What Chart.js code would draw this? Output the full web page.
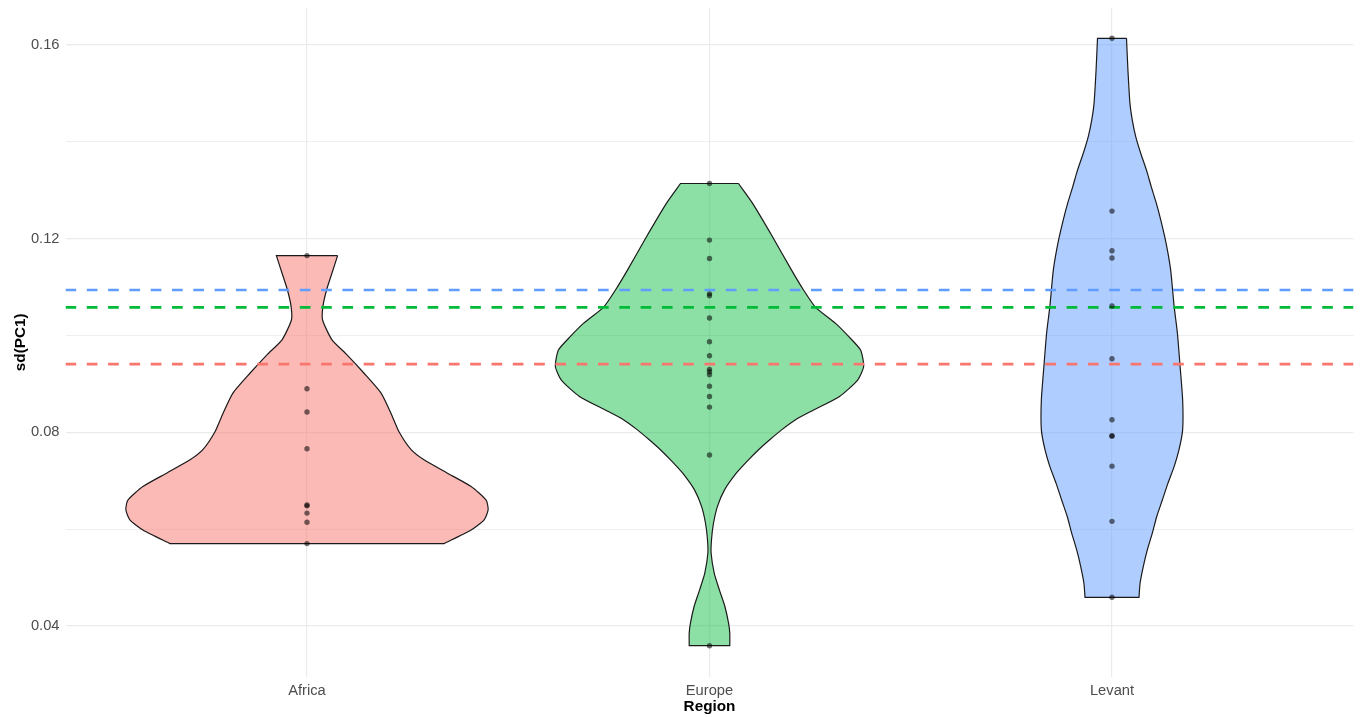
<!DOCTYPE html>
<html>
<head>
<meta charset="utf-8">
<script src="https://cdn.jsdelivr.net/npm/chart.js@4"></script>
<style>
html,body{margin:0;padding:0;background:#ffffff;}
#wrap{width:1361px;height:717px;position:relative;}
</style>
</head>
<body>
<div id="wrap"><canvas id="c" width="1361" height="717"></canvas></div>
<script>
// ---- data ----
const categories = ['Africa', 'Europe', 'Levant'];

// individual observations (sd(PC1)) per region
const africaPoints = [0.1165, 0.0890, 0.0842, 0.0766, 0.0650, 0.0648, 0.0633, 0.0614, 0.0570];
const europePoints = [0.1314, 0.1197, 0.1159, 0.1086, 0.1082, 0.1036, 0.0987, 0.0958, 0.0930, 0.0925, 0.0919, 0.0895, 0.0874, 0.0852, 0.0753, 0.0359];
const levantPoints = [0.1614, 0.1257, 0.1175, 0.1160, 0.1061, 0.0952, 0.0826, 0.0793, 0.0792, 0.0730, 0.0616, 0.0459];

// violin outlines: y levels and relative density width (1 = widest violin)
const africaProfileY = [0.1165, 0.1129, 0.1094, 0.1060, 0.1032, 0.0991, 0.0960, 0.0922, 0.0881, 0.0839, 0.0801, 0.0764, 0.0743, 0.0716, 0.0688, 0.0660, 0.0640, 0.0619, 0.0598, 0.0570];
const africaProfileW = [0.169, 0.138, 0.108, 0.088, 0.086, 0.138, 0.221, 0.315, 0.409, 0.464, 0.508, 0.575, 0.646, 0.773, 0.906, 0.989, 1.000, 0.978, 0.906, 0.757];

const europeProfileY = [0.1314, 0.1273, 0.1204, 0.1135, 0.1094, 0.1058, 0.1025, 0.0998, 0.0970, 0.0936, 0.0908, 0.0874, 0.0846, 0.0826, 0.0805, 0.0784, 0.0764, 0.0743, 0.0716, 0.0681, 0.0647, 0.0612, 0.0578, 0.0550, 0.0509, 0.0475, 0.0440, 0.0406, 0.0385, 0.0359];
const europeProfileW = [0.160, 0.238, 0.348, 0.453, 0.519, 0.586, 0.696, 0.768, 0.834, 0.851, 0.818, 0.718, 0.575, 0.475, 0.398, 0.331, 0.271, 0.215, 0.149, 0.083, 0.044, 0.022, 0.011, 0.009, 0.026, 0.054, 0.085, 0.105, 0.112, 0.112];

const levantProfileY = [0.1614, 0.1548, 0.1480, 0.1445, 0.1411, 0.1376, 0.1342, 0.1307, 0.1273, 0.1239, 0.1204, 0.1170, 0.1135, 0.1101, 0.1060, 0.1005, 0.0936, 0.0867, 0.0805, 0.0764, 0.0729, 0.0695, 0.0660, 0.0626, 0.0592, 0.0557, 0.0523, 0.0488, 0.0459];
const levantProfileW = [0.080, 0.088, 0.099, 0.112, 0.131, 0.159, 0.190, 0.217, 0.245, 0.269, 0.291, 0.309, 0.324, 0.333, 0.343, 0.361, 0.376, 0.390, 0.390, 0.370, 0.343, 0.309, 0.278, 0.247, 0.223, 0.195, 0.173, 0.155, 0.149];

// dashed reference lines (Levant, Europe, Africa)
const refLineValues = [0.1094, 0.1058, 0.0941];

// y-axis ticks
const yTickValues = [0.04, 0.06, 0.08, 0.10, 0.12, 0.14, 0.16];
const yTickLabels = ['0.04', '', '0.08', '', '0.12', '', '0.16'];

// ---- styles ----
const fillColors = ['rgba(248,118,109,0.5)', 'rgba(0,186,56,0.45)', 'rgba(97,156,255,0.5)'];
const lineColors = ['#619CFF', '#00BA38', '#F8766D'];
const HALF = 0.45;
const FONT = '"Liberation Sans", Arial, Helvetica, sans-serif';

const profiles = [
  [africaProfileY, africaProfileW],
  [europeProfileY, europeProfileW],
  [levantProfileY, levantProfileW]
];
const pointSets = [africaPoints, europePoints, levantPoints];

// closed outline: down the right side, flat bottom, up the left side, flat top.
// corner points are repeated so the smoothed outline keeps straight flat ends.
function violinPath(ci, ys, ws) {
  const right = ys.map((y, k) => ({x: ci + 1 + ws[k] * HALF, y: y}));
  const left = ys.map((y, k) => ({x: ci + 1 - ws[k] * HALF, y: y})).reverse();
  const rb = right[right.length - 1];
  const lt = left[left.length - 1];
  return right.concat([rb], left.slice(0, 1), left, [lt], [right[0]]);
}

const datasets = [];
profiles.forEach((p, ci) => {
  datasets.push({
    data: violinPath(ci, p[0], p[1]),
    borderColor: '#1a1a1a',
    borderWidth: 1.2,
    backgroundColor: fillColors[ci],
    fill: 'shape',
    pointRadius: 0,
    tension: 0.2,
    order: 3
  });
});
refLineValues.forEach((v, i) => {
  datasets.push({
    data: [{x: 0.4, y: v}, {x: 3.6, y: v}],
    borderColor: lineColors[i],
    borderWidth: 2.7,
    borderDash: [10.7, 10.6],
    pointRadius: 0,
    fill: false,
    order: 2
  });
});
pointSets.forEach((pts, ci) => {
  datasets.push({
    data: pts.map(v => ({x: ci + 1, y: v})),
    showLine: false,
    pointRadius: 2.7,
    pointBorderWidth: 0,
    pointBackgroundColor: 'rgba(0,0,0,0.55)',
    order: 1
  });
});

function isMajor(v) {
  const i = yTickValues.findIndex(t => Math.abs(t - v) < 1e-9);
  return i >= 0 && yTickLabels[i] !== '';
}

new Chart(document.getElementById('c'), {
  type: 'line',
  data: {datasets: datasets},
  options: {
    responsive: false,
    animation: false,
    devicePixelRatio: 1,
    layout: {padding: {top: 7.8, right: 7.5, left: 0, bottom: 0}},
    plugins: {legend: {display: false}, tooltip: {enabled: false}},
    scales: {
      x: {
        type: 'linear',
        min: 0.4,
        max: 3.6,
        afterBuildTicks: s => { s.ticks = categories.map((c, i) => ({value: i + 1})); },
        afterFit: s => { s.height = 40.3; s.paddingLeft = 0; s.paddingRight = 0; },
        ticks: {
          autoSkip: false,
          maxRotation: 0,
          padding: 5,
          color: '#4D4D4D',
          font: {family: FONT, size: 14.7},
          callback: v => categories[Math.round(v) - 1]
        },
        grid: {color: '#EBEBEB', lineWidth: 1.2, drawTicks: false},
        border: {display: false},
        title: {
          display: true,
          text: 'Region',
          color: '#000000',
          font: {family: FONT, size: 15.3, weight: 'bold'},
          padding: {top: 0, bottom: 1}
        }
      },
      y: {
        type: 'linear',
        min: 0.0295,
        max: 0.1677,
        afterBuildTicks: s => { s.ticks = yTickValues.map(v => ({value: v})); },
        afterFit: s => { s.width = 65.5; s.paddingTop = 0; s.paddingBottom = 0; },
        ticks: {
          padding: 6,
          color: '#4D4D4D',
          font: {family: FONT, size: 14.7},
          callback: v => {
            const i = yTickValues.findIndex(t => Math.abs(t - v) < 1e-9);
            return i >= 0 ? yTickLabels[i] : '';
          }
        },
        grid: {
          color: '#EBEBEB',
          lineWidth: ctx => isMajor(ctx.tick.value) ? 1.2 : 0.8,
          drawTicks: false
        },
        border: {display: false},
        title: {
          display: true,
          text: 'sd(PC1)',
          color: '#000000',
          font: {family: FONT, size: 15.3, weight: 'bold'},
          padding: {top: 12, bottom: 0}
        }
      }
    }
  }
});
</script>
</body>
</html>
